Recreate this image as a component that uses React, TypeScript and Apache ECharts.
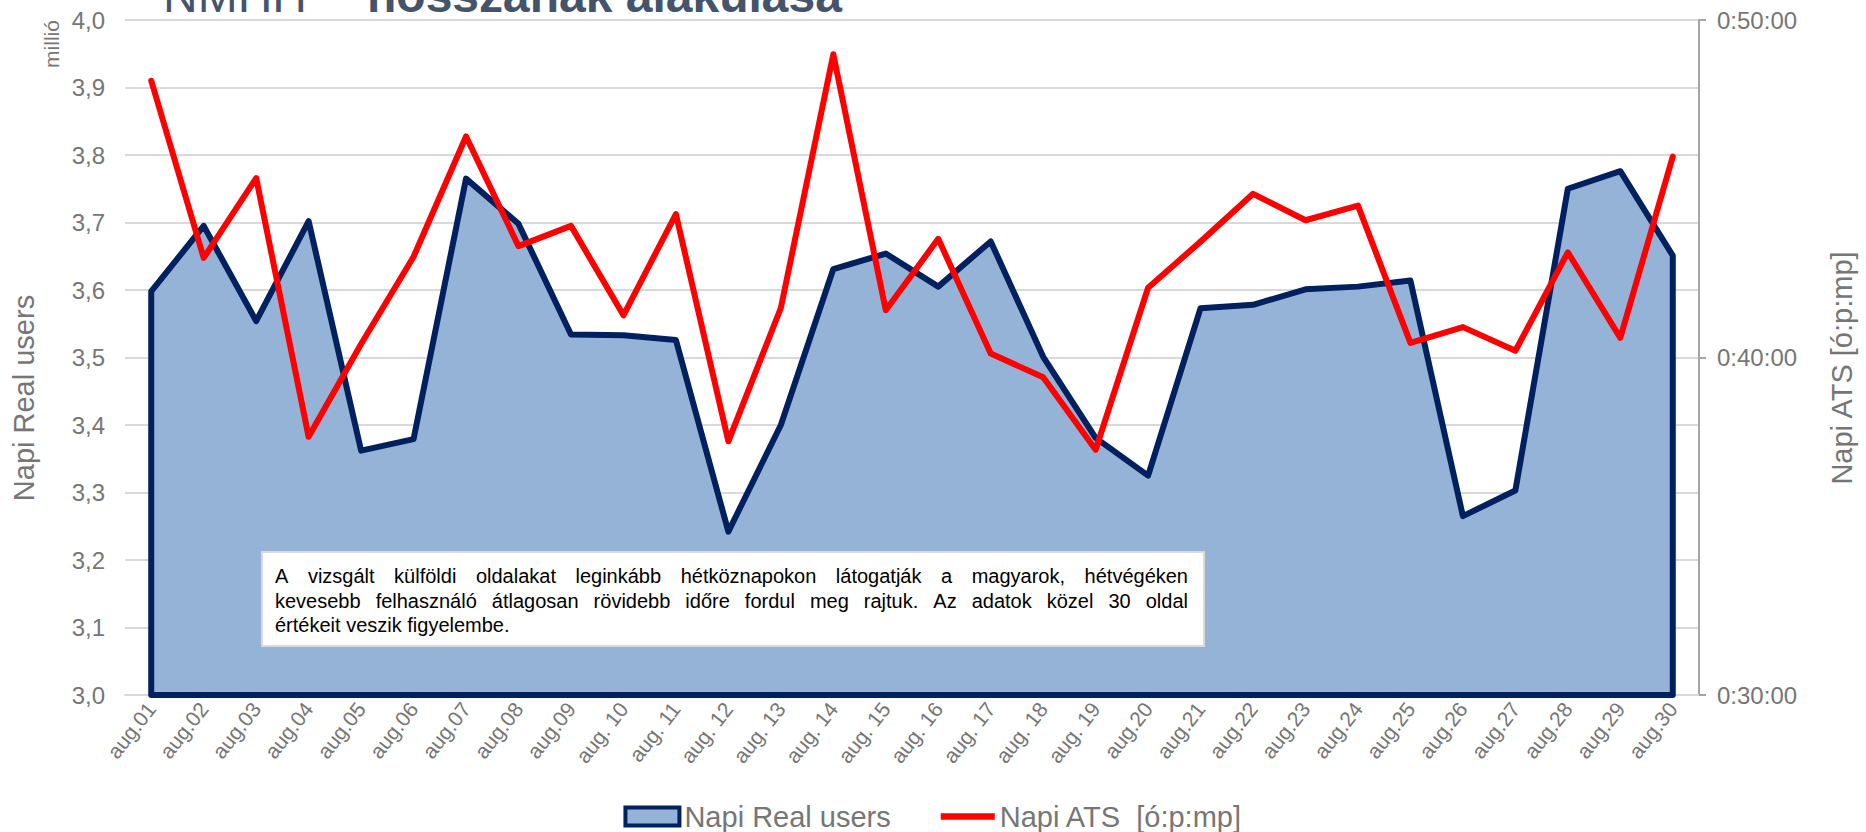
import React, { useEffect, useRef } from "react";
import * as echarts from "echarts";

const CATEGORIES = [
  "aug.01", "aug.02", "aug.03", "aug.04", "aug.05", "aug.06", "aug.07", "aug.08", "aug.09",
  "aug. 10", "aug. 11", "aug. 12", "aug. 13", "aug. 14", "aug. 15", "aug. 16", "aug. 17", "aug. 18", "aug. 19",
  "aug.20", "aug.21", "aug.22", "aug.23", "aug.24", "aug.25", "aug.26", "aug.27", "aug.28", "aug.29", "aug.30",
];

// Napi Real users (millió)
const REAL_USERS = [
  3.598, 3.695, 3.554, 3.702, 3.362, 3.379, 3.765, 3.698, 3.534, 3.533,
  3.526, 3.242, 3.4, 3.631, 3.654, 3.605, 3.672, 3.501, 3.381, 3.325,
  3.573, 3.578, 3.601, 3.605, 3.614, 3.265, 3.303, 3.75, 3.776, 3.651,
];

// Napi ATS (ó:p:mp)
const ATS = [
  "0:48:12", "0:42:57", "0:45:19", "0:37:39", "0:40:24", "0:42:59", "0:46:33", "0:43:18", "0:43:54", "0:41:15",
  "0:44:15", "0:37:31", "0:41:28", "0:48:59", "0:41:24", "0:43:31", "0:40:07", "0:39:25", "0:37:16", "0:42:04",
  "0:43:26", "0:44:51", "0:44:04", "0:44:30", "0:40:26", "0:40:54", "0:40:12", "0:43:07", "0:40:35", "0:45:57",
];

const LEFT_MIN = 3.0;
const LEFT_MAX = 4.0;
const LEFT_STEP = 0.1;
const RIGHT_TICKS = ["0:30:00", "0:40:00", "0:50:00"];

const SERIES_USERS = "Napi Real users";
const SERIES_ATS = "Napi ATS  [ó:p:mp]";
const LEFT_NAME = "Napi Real users";
const RIGHT_NAME = "Napi ATS [ó:p:mp]";
const UNIT = "millió";
const TITLE_A = "NMHH";
const TITLE_B = "hosszának alakulása";
const NOTE_LINES = [
  "A vizsgált külföldi oldalakat leginkább hétköznapokon látogatják a magyarok, hétvégéken",
  "kevesebb felhasználó átlagosan rövidebb időre fordul meg rajtuk. Az adatok közel 30 oldal",
  "értékeit veszik figyelembe.",
];

const FONT = "'Liberation Sans', Arial, sans-serif";

const toSec = (s: string) => {
  const [h, m, sec] = s.split(":").map(Number);
  return h * 3600 + m * 60 + sec;
};
const fmtTime = (v: number) => {
  const h = Math.floor(v / 3600);
  const m = Math.floor((v % 3600) / 60);
  const s = Math.round(v % 60);
  return `${h}:${String(m).padStart(2, "0")}:${String(s).padStart(2, "0")}`;
};

function buildNote(x0: number, y0: number, w: number, h: number) {
  const fontSize = 20;
  const canvas = document.createElement("canvas");
  const ctx = canvas.getContext("2d")!;
  ctx.font = `${fontSize}px ${FONT}`;
  const padL = 13;
  const padR = 16;
  const inner = w - padL - padR;
  const children: any[] = [
    {
      type: "rect",
      z: 100,
      shape: { x: x0, y: y0, width: w, height: h },
      style: { fill: "#ffffff", stroke: "#d9d9d9", lineWidth: 2 },
    },
  ];
  const lineYs = [576, 601, 625];
  const txt = (text: string, x: number, y: number) => ({
    type: "text",
    z: 101,
    style: { text, x, y, fontSize, fontFamily: FONT, fill: "#000", verticalAlign: "middle", align: "left" },
  });
  NOTE_LINES.forEach((line, li) => {
    const words = line.split(" ");
    const last = li === NOTE_LINES.length - 1;
    if (last) {
      children.push(txt(line, x0 + padL, lineYs[li]));
      return;
    }
    const widths = words.map((wd) => ctx.measureText(wd).width);
    const total = widths.reduce((a, b) => a + b, 0);
    const gap = (inner - total) / (words.length - 1);
    let x = x0 + padL;
    words.forEach((wd, i) => {
      children.push(txt(wd, x, lineYs[li]));
      x += widths[i] + gap;
    });
  });
  return { type: "group", z: 100, children };
}

export default function App() {
  const ref = useRef<HTMLDivElement>(null);
  useEffect(() => {
    if (!ref.current) return;
    const chart = echarts.init(ref.current, null, { renderer: "svg" });
    const atsSec = ATS.map(toSec);
    const rightTickSec = RIGHT_TICKS.map(toSec);
    const option: any = {
      animation: false,
      backgroundColor: "#ffffff",
      textStyle: { fontFamily: FONT },
      grid: { left: 125, right: 167, top: 20, bottom: 137 },
      legend: {
        bottom: -4,
        left: "center",
        itemWidth: 54,
        itemHeight: 18,
        itemGap: 50,
        textStyle: { fontSize: 29, color: "#767676", fontFamily: FONT },
        data: [
          { name: SERIES_USERS, icon: "rect", itemStyle: { color: "#95B3D7", borderColor: "#002060", borderWidth: 4 } },
          { name: SERIES_ATS, icon: "path://M0,0 L50,0 L50,6 L0,6 Z", itemStyle: { color: "#FF0000" } },
        ],
      },
      xAxis: {
        type: "category",
        data: CATEGORIES,
        boundaryGap: true,
        axisLine: { show: true, lineStyle: { color: "#d9d9d9", width: 2 } },
        axisTick: { show: false },
        axisLabel: { rotate: 52, interval: 0, fontSize: 21, color: "#767676", margin: 10 },
      },
      yAxis: [
        {
          type: "value",
          min: LEFT_MIN,
          max: LEFT_MAX,
          interval: LEFT_STEP,
          axisLine: { show: false },
          axisTick: { show: false },
          splitLine: { lineStyle: { color: "#d9d9d9", width: 2 } },
          axisLabel: {
            fontSize: 24,
            color: "#767676",
            margin: 20,
            formatter: (v: number) => v.toFixed(1).replace(".", ","),
          },
        },
        {
          type: "value",
          position: "right",
          min: rightTickSec[0],
          max: rightTickSec[rightTickSec.length - 1],
          interval: rightTickSec[1] - rightTickSec[0],
          axisLine: { show: true, lineStyle: { color: "#a6a6a6", width: 2 } },
          axisTick: { show: true, length: 7, lineStyle: { color: "#a6a6a6", width: 2 } },
          splitLine: { show: false },
          axisLabel: { fontSize: 24, color: "#767676", margin: 18, formatter: (v: number) => fmtTime(v) },
        },
      ],
      series: [
        {
          name: SERIES_USERS,
          type: "custom",
          yAxisIndex: 0,
          itemStyle: { color: "#95B3D7", borderColor: "#002060", borderWidth: 4 },
          data: REAL_USERS.map((v, i) => [i, v]),
          encode: { x: 0, y: 1 },
          z: 2,
          renderItem: (params: any, api: any) => {
            if (params.dataIndexInside !== 0) return null;
            const n = params.dataInsideLength;
            const pts: number[][] = [];
            for (let i = 0; i < n; i++) {
              pts.push(api.coord([api.value(0, i), api.value(1, i)]));
            }
            const b0 = api.coord([api.value(0, 0), LEFT_MIN]);
            const bn = api.coord([api.value(0, n - 1), LEFT_MIN]);
            return {
              type: "polygon",
              shape: { points: [b0, ...pts, bn] },
              style: { fill: "#95B3D7", stroke: "#002060", lineWidth: 6, lineJoin: "round" },
            };
          },
        },
        {
          name: SERIES_ATS,
          type: "line",
          yAxisIndex: 1,
          data: atsSec,
          symbol: "none",
          z: 3,
          lineStyle: { color: "#FF0000", width: 6, join: "round", cap: "round" },
          itemStyle: { color: "#FF0000" },
        },
      ],
      graphic: [
        {
          type: "text",
          z: 100,
          style: { text: TITLE_A, x: 163, y: -5, fontSize: 48, fontFamily: FONT, fill: "#44546A", verticalAlign: "middle" },
        },
        {
          type: "text",
          z: 100,
          style: { text: TITLE_B, x: 367, y: -5, fontSize: 48, fontWeight: "bold", fontFamily: FONT, fill: "#44546A", verticalAlign: "middle" },
        },
        {
          type: "text",
          z: 100,
          x: 51,
          y: 44,
          rotation: Math.PI / 2,
          style: { text: UNIT, x: 0, y: 0, fontSize: 21, fontFamily: FONT, fill: "#767676", align: "center", verticalAlign: "middle" },
        },
        {
          type: "text",
          z: 100,
          x: 24,
          y: 398,
          rotation: Math.PI / 2,
          style: { text: LEFT_NAME, x: 0, y: 0, fontSize: 29, fontFamily: FONT, fill: "#767676", align: "center", verticalAlign: "middle" },
        },
        {
          type: "text",
          z: 100,
          x: 1842,
          y: 368,
          rotation: Math.PI / 2,
          style: { text: RIGHT_NAME, x: 0, y: 0, fontSize: 29, fontFamily: FONT, fill: "#767676", align: "center", verticalAlign: "middle" },
        },
        buildNote(262, 552, 942, 94),
      ],
    };
    chart.setOption(option);
    return () => chart.dispose();
  }, []);
  return (
    <div
      ref={ref}
      style={{ position: "absolute", left: 0, top: 0, width: "1866px", height: "832px", background: "#fff" }}
    />
  );
}
